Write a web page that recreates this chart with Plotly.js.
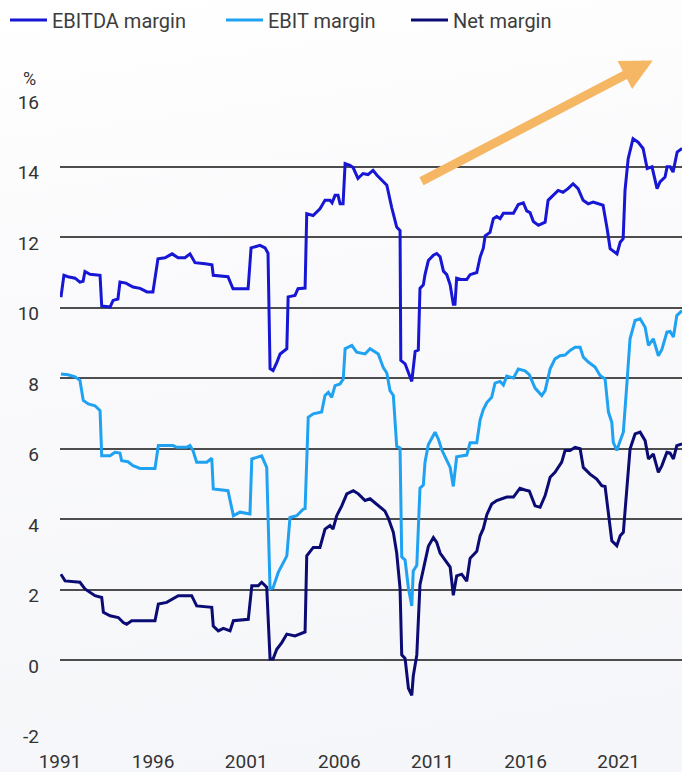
<!DOCTYPE html>
<html>
<head>
<meta charset="utf-8">
<script src="https://cdn.plot.ly/plotly-3.0.1.min.js"></script>
<style>
  html, body { margin: 0; padding: 0; }
  body {
    width: 682px; height: 772px; overflow: hidden;
    background: linear-gradient(172deg, #ffffff 0%, #fafafc 35%, #f5f6f9 100%);
  }
  #chart { width: 682px; height: 772px; }
</style>
</head>
<body>
<div id="chart"></div>
<script>
// Margins in %, by period (decimal year)
const ebitdaYears = [1991.05,1991.21,1991.43,1991.81,1992.07,1992.24,1992.34,1992.61,1993.15,1993.24,1993.69,1993.85,1994.11,1994.22,1994.54,1994.92,1995.30,1995.67,1995.99,1996.26,1996.64,1997.02,1997.34,1997.71,1997.98,1998.25,1998.79,1999.16,1999.23,2000.02,2000.29,2001.10,2001.26,2001.74,2002.01,2002.17,2002.28,2002.44,2002.65,2002.82,2003.18,2003.25,2003.62,2003.78,2004.16,2004.25,2004.59,2004.96,2005.23,2005.50,2005.61,2005.77,2005.93,2006.04,2006.20,2006.31,2006.57,2006.74,2007.00,2007.27,2007.54,2007.81,2008.02,2008.35,2008.55,2008.81,2009.08,2009.26,2009.30,2009.53,2009.89,2010.07,2010.24,2010.33,2010.51,2010.60,2010.78,2011.05,2011.23,2011.41,2011.59,2011.77,2011.95,2012.12,2012.21,2012.30,2012.57,2012.84,2013.02,2013.38,2013.56,2013.73,2013.83,2014.09,2014.27,2014.45,2014.63,2014.81,2015.35,2015.61,2015.88,2016.06,2016.24,2016.42,2016.69,2017.05,2017.21,2017.48,2017.75,2018.01,2018.28,2018.55,2018.82,2019.09,2019.36,2019.63,2020.00,2020.16,2020.38,2020.54,2020.91,2021.08,2021.24,2021.34,2021.51,2021.77,2022.04,2022.31,2022.53,2022.79,2023.06,2023.22,2023.49,2023.60,2023.76,2023.92,2024.14,2024.40];
const ebitdaMargin = [10.30,10.92,10.88,10.84,10.73,10.75,11.03,10.95,10.92,10.05,10.02,10.21,10.25,10.73,10.70,10.59,10.55,10.45,10.45,11.39,11.42,11.53,11.42,11.42,11.53,11.28,11.25,11.22,10.92,10.88,10.54,10.54,11.70,11.77,11.70,11.55,8.27,8.22,8.46,8.69,8.84,10.31,10.35,10.54,10.56,12.67,12.62,12.81,13.05,13.05,12.98,13.19,13.19,12.95,12.95,14.09,14.04,13.98,13.67,13.81,13.78,13.90,13.76,13.57,13.48,12.85,12.29,12.19,8.51,8.41,7.91,8.76,8.80,10.55,10.65,10.94,11.34,11.49,11.54,11.45,11.04,10.94,10.65,10.10,10.10,10.84,10.80,10.80,10.94,11.00,11.44,11.69,12.04,12.14,12.53,12.59,12.53,12.68,12.68,12.93,12.98,12.75,12.70,12.45,12.34,12.43,13.05,13.19,13.33,13.28,13.38,13.52,13.38,13.05,12.95,13.00,12.95,12.91,12.24,11.68,11.53,11.86,11.96,13.33,14.23,14.80,14.70,14.52,13.95,14.00,13.38,13.57,13.71,14.00,14.00,13.85,14.42,14.52];

const ebitYears = [1991.05,1991.43,1991.81,1992.07,1992.25,1992.52,1992.88,1993.15,1993.24,1993.69,1993.95,1994.22,1994.31,1994.65,1994.92,1995.30,1996.10,1996.28,1997.07,1997.27,1997.80,1997.98,1998.14,1998.34,1998.88,1999.15,1999.23,2000.02,2000.31,2000.67,2001.20,2001.30,2001.83,2002.10,2002.28,2002.44,2002.72,2002.99,2003.18,2003.35,2003.71,2004.07,2004.16,2004.33,2004.60,2005.05,2005.23,2005.41,2005.59,2005.77,2006.04,2006.21,2006.31,2006.67,2006.93,2007.38,2007.65,2008.09,2008.36,2008.55,2008.72,2008.90,2009.08,2009.26,2009.35,2009.53,2009.71,2009.89,2009.97,2010.16,2010.33,2010.51,2010.60,2010.78,2011.14,2011.32,2011.50,2011.77,2011.95,2012.12,2012.30,2012.84,2013.02,2013.38,2013.56,2013.73,2013.92,2014.18,2014.36,2014.63,2014.81,2014.99,2015.35,2015.61,2015.97,2016.20,2016.51,2016.87,2017.05,2017.32,2017.58,2017.85,2018.12,2018.39,2018.66,2018.93,2019.10,2019.37,2019.73,2020.00,2020.27,2020.45,2020.63,2020.71,2020.90,2021.08,2021.25,2021.44,2021.61,2021.88,2022.15,2022.42,2022.60,2022.86,2023.13,2023.32,2023.59,2023.76,2023.94,2024.12,2024.40];
const ebitMargin = [8.12,8.10,8.04,7.94,7.37,7.27,7.22,7.08,5.80,5.80,5.90,5.88,5.66,5.63,5.52,5.44,5.44,6.09,6.09,6.04,6.04,6.09,5.95,5.62,5.62,5.73,4.86,4.81,4.10,4.20,4.15,5.71,5.80,5.47,2.02,2.05,2.49,2.78,2.96,4.05,4.10,4.29,4.30,6.89,6.99,7.04,7.51,7.60,7.46,7.79,7.84,7.98,8.84,8.93,8.74,8.69,8.84,8.69,8.30,8.15,7.65,7.51,6.07,6.02,2.93,2.84,2.04,1.54,2.53,2.69,4.88,4.97,5.62,6.12,6.47,6.27,5.97,5.67,5.47,4.93,5.77,5.82,6.17,6.17,6.82,7.11,7.31,7.46,7.86,7.91,7.81,8.06,8.01,8.26,8.21,8.10,7.72,7.51,7.65,8.27,8.55,8.64,8.66,8.79,8.88,8.88,8.60,8.46,8.32,8.08,7.98,7.04,6.75,6.18,5.95,6.23,6.47,7.84,9.12,9.64,9.69,9.45,8.93,9.12,8.64,8.82,9.31,9.33,9.17,9.78,9.92];

const netYears = [1991.05,1991.27,1992.07,1992.34,1992.88,1993.24,1993.33,1993.69,1994.13,1994.40,1994.58,1994.85,1996.10,1996.28,1996.73,1997.00,1997.35,1998.07,1998.34,1999.15,1999.23,1999.50,1999.77,2000.13,2000.31,2001.11,2001.30,2001.64,2001.83,2002.10,2002.28,2002.44,2002.64,2002.91,2003.18,2003.62,2004.07,2004.16,2004.25,2004.60,2004.96,2005.23,2005.50,2005.66,2005.86,2006.13,2006.40,2006.75,2007.02,2007.38,2007.65,2008.01,2008.19,2008.45,2008.63,2008.90,2009.08,2009.26,2009.35,2009.53,2009.71,2009.89,2009.97,2010.16,2010.33,2010.51,2010.78,2011.05,2011.23,2011.41,2011.68,2011.95,2012.12,2012.30,2012.57,2012.84,2013.02,2013.38,2013.56,2013.73,2013.92,2014.18,2014.45,2014.72,2014.99,2015.35,2015.70,2015.97,2016.20,2016.51,2016.78,2017.05,2017.32,2017.58,2017.94,2018.12,2018.39,2018.66,2018.93,2019.10,2019.46,2019.82,2020.09,2020.27,2020.45,2020.63,2020.90,2021.08,2021.25,2021.44,2021.61,2021.88,2022.15,2022.42,2022.60,2022.86,2023.13,2023.32,2023.59,2023.76,2023.94,2024.12,2024.40];
const netMargin = [2.44,2.25,2.21,2.02,1.83,1.78,1.36,1.26,1.21,1.07,1.02,1.12,1.12,1.59,1.64,1.73,1.83,1.83,1.54,1.50,0.97,0.83,0.90,0.83,1.12,1.16,2.11,2.11,2.21,2.07,0.03,0.03,0.31,0.50,0.74,0.69,0.79,0.80,2.96,3.20,3.20,3.72,3.82,3.72,4.10,4.38,4.72,4.81,4.72,4.53,4.58,4.43,4.33,4.23,4.03,3.63,3.04,2.04,0.15,0.05,-0.80,-1.00,-0.45,0.15,2.14,2.54,3.23,3.48,3.34,3.04,2.84,2.64,1.84,2.39,2.44,2.24,2.89,3.09,3.53,3.73,4.13,4.43,4.53,4.58,4.63,4.63,4.88,4.83,4.80,4.38,4.34,4.67,5.19,5.33,5.62,5.95,5.95,6.04,6.00,5.47,5.28,5.14,4.95,4.93,4.10,3.39,3.25,3.53,3.63,5.00,5.99,6.42,6.47,6.23,5.71,5.85,5.33,5.52,5.90,5.88,5.71,6.09,6.14];

const seriesNames = ['EBITDA margin', 'EBIT margin', 'Net margin'];
const seriesColors = ['#1616d4', '#1fa2f2', '#0b0b74'];

const xTickYears = [1991, 1996, 2001, 2006, 2011, 2016, 2021];
const xTickLabels = ['1991', '1996', '2001', '2006', '2011', '2016', '2021'];
const yTickValues = [-2, 0, 2, 4, 6, 8, 10, 12, 14, 16];
const yTickLabels = ['-2', '0', '2', '4', '6', '8', '10', '12', '14', '16'];

// Trend arrow: tail and head in axis units
const trendArrow = { fromYear: 2010.33, fromValue: 13.57, toYear: 2022.83, toValue: 17.02 };

const FONT = 'Roboto, "Liberation Sans", Arial, sans-serif';
const TEXT = '#333333';

function lineTrace(x, y, i) {
  return {
    type: 'scatter', mode: 'lines', x: x, y: y,
    name: seriesNames[i],
    legend: i === 0 ? 'legend' : 'legend' + (i + 1),
    line: { color: seriesColors[i], width: 3 },
    hoverinfo: 'skip'
  };
}

const traces = [
  lineTrace(ebitdaYears, ebitdaMargin, 0),
  lineTrace(ebitYears, ebitMargin, 1),
  lineTrace(netYears, netMargin, 2)
];

function legendAt(px) {
  return {
    xref: 'container', yref: 'container',
    x: px / 682, y: 1 - 20 / 772,
    xanchor: 'left', yanchor: 'middle',
    orientation: 'h', bgcolor: 'rgba(0,0,0,0)', borderwidth: 0,
    itemwidth: 37,
    font: { family: FONT, size: 20, color: '#3d3d3d' }
  };
}

const layout = {
  width: 682, height: 772,
  margin: { l: 60, r: 0, t: 96, b: 41, pad: 0 },
  paper_bgcolor: 'rgba(0,0,0,0)',
  plot_bgcolor: 'rgba(0,0,0,0)',
  font: { family: FONT, size: 19, color: TEXT },
  showlegend: true,
  legend: legendAt(5),
  legend2: legendAt(221),
  legend3: legendAt(406),
  xaxis: {
    range: [1991, 2024.40],
    tickmode: 'array', tickvals: xTickYears, ticktext: xTickLabels,
    showgrid: false, zeroline: false, showline: false,
    ticks: '', ticklabelstandoff: 17,
    tickfont: { family: FONT, size: 19, color: TEXT },
    fixedrange: true
  },
  yaxis: {
    range: [-2.01, 16.01],
    tickmode: 'array', tickvals: yTickValues, ticktext: yTickLabels,
    showgrid: true, gridcolor: '#4d4d4d', gridwidth: 2,
    zeroline: false, showline: false,
    ticks: '', ticklabelstandoff: 20, ticklabelshift: 6,
    tickfont: { family: FONT, size: 19, color: TEXT },
    fixedrange: true
  },
  annotations: [
    {
      xref: 'paper', yref: 'paper', x: -0.049, y: 1.028,
      xanchor: 'center', yanchor: 'middle', showarrow: false,
      text: '%', font: { family: FONT, size: 18, color: TEXT }
    },
    {
      xref: 'x', yref: 'y', axref: 'x', ayref: 'y',
      x: trendArrow.toYear, y: trendArrow.toValue,
      ax: trendArrow.fromYear, ay: trendArrow.fromValue,
      text: '', showarrow: true,
      arrowhead: 2, arrowsize: 0.7, arrowwidth: 9,
      arrowcolor: '#f6b764', standoff: 0, startstandoff: 0
    }
  ]
};

Plotly.newPlot('chart', traces, layout, { displayModeBar: false, staticPlot: true });
</script>
</body>
</html>
